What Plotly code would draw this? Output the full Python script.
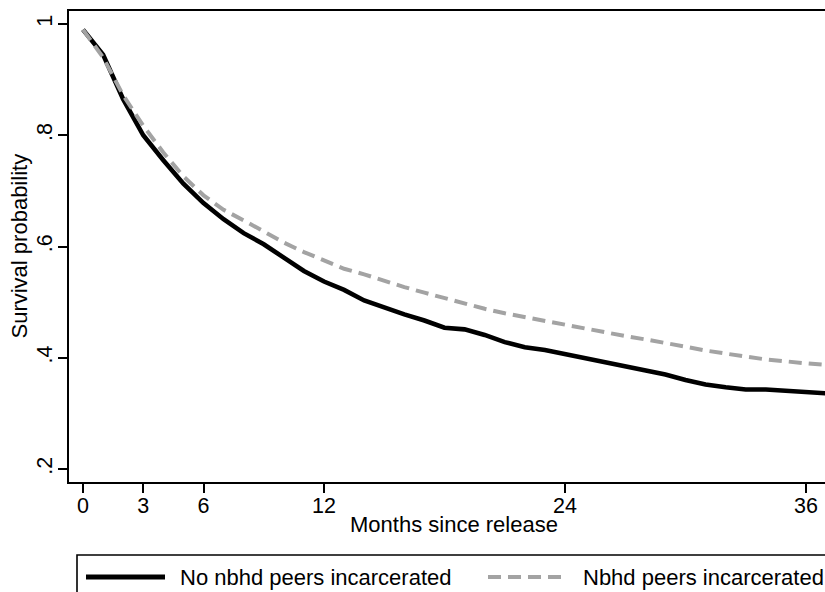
import plotly.graph_objects as go

# Kaplan-Meier style survival estimates by month since release
months = list(range(0, 38))
no_peers = [0.990, 0.945, 0.865, 0.800, 0.755, 0.713, 0.678, 0.649, 0.624, 0.604,
            0.580, 0.556, 0.537, 0.522, 0.503, 0.490, 0.478, 0.467, 0.454, 0.451,
            0.441, 0.428, 0.419, 0.414, 0.407, 0.400, 0.391, 0.385, 0.379, 0.370,
            0.360, 0.352, 0.347, 0.343, 0.343, 0.340, 0.337, 0.336]
peers = [0.990, 0.940, 0.872, 0.817, 0.769, 0.726, 0.692, 0.666, 0.647, 0.627,
         0.607, 0.590, 0.575, 0.560, 0.550, 0.538, 0.527, 0.517, 0.507, 0.497,
         0.488, 0.480, 0.473, 0.466, 0.459, 0.453, 0.445, 0.439, 0.433, 0.427,
         0.420, 0.413, 0.407, 0.402, 0.397, 0.393, 0.390, 0.387]

series_names = ["No nbhd peers incarcerated", "Nbhd peers incarcerated"]
x_ticks = [0, 3, 6, 12, 24, 36]
y_ticks = [0.2, 0.4, 0.6, 0.8, 1.0]
y_tick_text = [".2", ".4", ".6", ".8", "1"]

W, H = 825, 592
ML, MR, MT, MB = 69, 0, 11, 110
PW, PH = W - ML - MR, H - MT - MB

FONT = "Liberation Sans, Arial, Helvetica, sans-serif"
GRAY = "#a3a3a3"
DASH = "13px,7px"


def px(x):
    return (x - ML) / PW


def py(y):
    return (H - MB - y) / PH


fig = go.Figure()
fig.add_trace(go.Scatter(x=months, y=no_peers, mode="lines", name=series_names[0],
                         line=dict(color="black", width=4.6)))
fig.add_trace(go.Scatter(x=months, y=peers, mode="lines", name=series_names[1],
                         line=dict(color=GRAY, width=4, dash=DASH)))

axis_font = dict(family=FONT, size=21.5, color="black")

fig.update_layout(
    width=W, height=H,
    margin=dict(l=ML, r=MR, t=MT, b=MB, pad=0),
    paper_bgcolor="white", plot_bgcolor="white",
    showlegend=False,
    font=axis_font,
    xaxis=dict(range=[-0.697, 36.946], tickvals=x_ticks, ticktext=[str(v) for v in x_ticks],
               ticks="outside", ticklen=9, tickwidth=1.5, tickcolor="black",
               ticklabelstandoff=-6,
               showline=True, linewidth=2, linecolor="black", mirror=True,
               showgrid=False, zeroline=False, tickfont=axis_font),
    yaxis=dict(range=[0.1766, 1.0234], tickvals=y_ticks, ticktext=y_tick_text,
               ticks="outside", ticklen=9, tickwidth=1.5, tickcolor="black",
               ticklabelstandoff=-3,
               tickangle=-90, showline=True, linewidth=2, linecolor="black",
               showgrid=False, zeroline=False, tickfont=axis_font),
)

# axis titles
fig.add_annotation(text="Months since release", x=px(454), y=py(524), xref="paper", yref="paper",
                   xanchor="center", yanchor="middle", showarrow=False,
                   font=dict(family=FONT, size=22, color="black"))
fig.add_annotation(text="Survival probability", x=px(18.5), y=py(246), xref="paper", yref="paper",
                   xanchor="center", yanchor="middle", textangle=-90, showarrow=False,
                   font=dict(family=FONT, size=22, color="black"))

# legend box
fig.add_shape(type="rect", xref="paper", yref="paper",
              x0=px(77), x1=px(840), y0=py(555), y1=py(610),
              line=dict(color="black", width=1.6), fillcolor="white", layer="above")
fig.add_shape(type="line", xref="paper", yref="paper",
              x0=px(86), x1=px(165), y0=py(577), y1=py(577),
              line=dict(color="black", width=5))
fig.add_shape(type="line", xref="paper", yref="paper",
              x0=px(488), x1=px(567), y0=py(577), y1=py(577),
              line=dict(color=GRAY, width=4, dash=DASH))
fig.add_annotation(text=series_names[0], x=px(178), y=py(577), xref="paper", yref="paper",
                   xanchor="left", yanchor="middle", showarrow=False,
                   font=dict(family=FONT, size=22, color="black"))
fig.add_annotation(text=series_names[1], x=px(581), y=py(577), xref="paper", yref="paper",
                   xanchor="left", yanchor="middle", showarrow=False,
                   font=dict(family=FONT, size=22, color="black"))

fig.write_html("out.html")
